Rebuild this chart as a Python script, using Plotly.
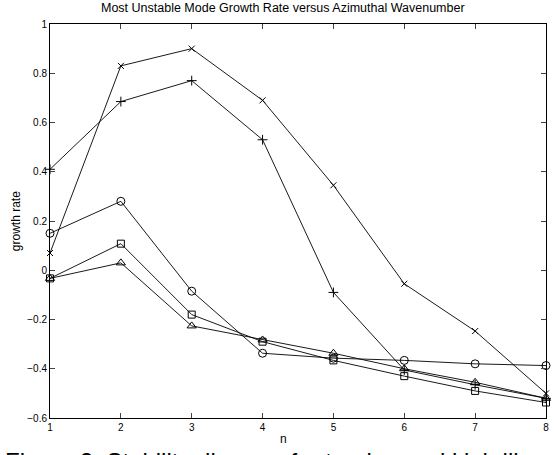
import plotly.graph_objects as go

n = [1, 2, 3, 4, 5, 6, 7, 8]
growth_x = [0.07, 0.83, 0.90, 0.69, 0.345, -0.055, -0.247, -0.50]
growth_plus = [0.41, 0.685, 0.77, 0.53, -0.09, -0.405, -0.465, -0.52]
growth_circle = [0.15, 0.28, -0.085, -0.337, -0.357, -0.366, -0.38, -0.387]
growth_square = [-0.033, 0.108, -0.18, -0.29, -0.366, -0.43, -0.49, -0.537]
growth_triangle = [-0.033, 0.03, -0.226, -0.283, -0.337, -0.40, -0.455, -0.52]

ytick_vals = [-0.6, -0.4, -0.2, 0, 0.2, 0.4, 0.6, 0.8, 1]
ytick_text = ["\u22120.6", "\u22120.4", "\u22120.2", "0", "0.2", "0.4", "0.6", "0.8", "1"]

series = [
    (growth_x, "x-thin", 6),
    (growth_plus, "cross-thin", 7),
    (growth_circle, "circle-open", 8),
    (growth_square, "square-open", 7),
    (growth_triangle, "triangle-up-open", 8),
]

fig = go.Figure()
for vals, sym, sz in series:
    fig.add_trace(go.Scatter(
        x=n, y=vals, mode="lines+markers",
        line=dict(color="black", width=0.9),
        marker=dict(symbol=sym, size=sz, color="black",
                    line=dict(color="black", width=1)),
        showlegend=False, cliponaxis=False,
    ))

W, H = 554, 455
L, R, T, B = 50, 5, 24, 37
ph = H - T - B
pw = W - L - R

fig.update_layout(
    width=W, height=H,
    margin=dict(l=L, r=R, t=T, b=B),
    paper_bgcolor="white", plot_bgcolor="white",
    font=dict(family="Liberation Sans, Arial, sans-serif", color="black", size=10),
    xaxis=dict(range=[1, 8], tickvals=n, ticks="inside", ticklen=5,
               showline=True, linecolor="black", linewidth=1, mirror="ticks",
               showgrid=False, zeroline=False, tickfont=dict(size=10)),
    yaxis=dict(range=[-0.6, 1], tickvals=ytick_vals, ticktext=ytick_text,
               ticks="inside", ticklen=5,
               showline=True, linecolor="black", linewidth=1, mirror="ticks",
               showgrid=False, zeroline=False, tickfont=dict(size=10)),
    annotations=[
        dict(text="Most Unstable Mode Growth Rate versus Azimuthal Wavenumber",
             xref="paper", yref="paper", x=(284 - L) / pw, y=(H - B - 8) / ph,
             xanchor="center", yanchor="middle", showarrow=False,
             font=dict(size=12.5)),
        dict(text="n", xref="paper", yref="paper", x=(285 - L) / pw,
             y=(H - B - 439) / ph, xanchor="center", yanchor="middle",
             showarrow=False, font=dict(size=12)),
        dict(text="growth rate", xref="paper", yref="paper", x=(16 - L) / pw,
             y=0.5, xanchor="center", yanchor="middle", textangle=-90,
             showarrow=False, font=dict(size=12)),
        dict(text="Figure 2: Stability diagram for tearing and kink-like modes in the",
             xref="paper", yref="paper", x=(3 - L) / pw,
             y=(H - B - 461) / ph, xanchor="left", yanchor="middle",
             showarrow=False, font=dict(size=24)),
    ],
)

fig.write_html("out.html", config={"displayModeBar": False},
               post_script="document.body.style.margin='0';document.body.style.overflow='hidden';")
